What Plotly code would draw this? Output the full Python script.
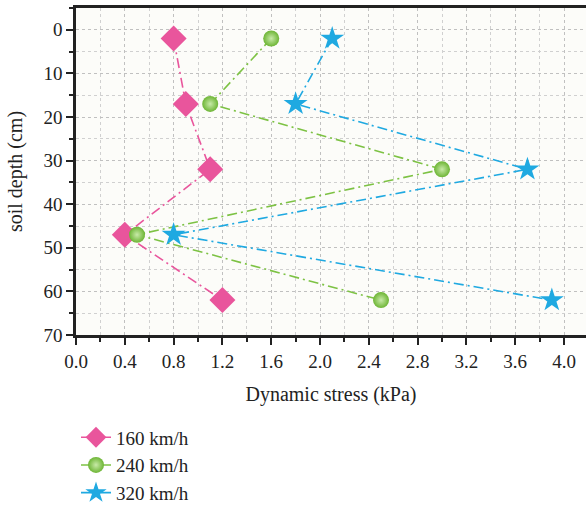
import plotly.graph_objects as go

depth = [2, 17, 32, 47, 62]
s160 = [0.8, 0.9, 1.1, 0.4, 1.2]
s240 = [1.6, 1.1, 3.0, 0.5, 2.5]
s320 = [2.1, 1.8, 3.7, 0.8, 3.9]
names = ["160 km/h", "240 km/h", "320 km/h"]
xticks = [0.0, 0.4, 0.8, 1.2, 1.6, 2.0, 2.4, 2.8, 3.2, 3.6, 4.0]
yticks = [0, 10, 20, 30, 40, 50, 60, 70]

font = "Liberation Serif, DejaVu Serif, serif"
dash = "10px,4px,2px,4px"
fig = go.Figure()
fig.add_trace(go.Scatter(x=s160, y=depth, name=names[0], mode="lines+markers",
                         line=dict(color="#e9559c", width=1.6, dash=dash),
                         marker=dict(symbol="diamond", size=20, color="#e9559c")))
fig.add_trace(go.Scatter(x=s240, y=depth, name=names[1], mode="lines+markers",
                         line=dict(color="#7dc244", width=1.6, dash=dash),
                         marker=dict(symbol="circle", size=16, color="#6db535",
                                     line=dict(width=0),
                                     gradient=dict(type="radial", color="#c8eaa8"))))
fig.add_trace(go.Scatter(x=s320, y=depth, name=names[2], mode="lines+markers",
                         line=dict(color="#1fa9e1", width=1.6, dash=dash),
                         marker=dict(symbol="star", size=18, color="#1fa9e1", line=dict(width=0))))

fig.update_layout(
    width=586, height=509,
    margin=dict(l=76, r=0, t=8, b=174, autoexpand=False),
    paper_bgcolor="white", plot_bgcolor="#fcfcf9",
    font=dict(family=font, size=19, color="#222"),
    showlegend=True,
    legend=dict(x=0.0, xanchor="left", y=-0.255, yanchor="top", orientation="v",
                font=dict(family=font, size=19), tracegroupgap=0,
                itemsizing="trace", bgcolor="rgba(0,0,0,0)"),
    xaxis=dict(range=[0, 4.18], tickvals=xticks, ticktext=[f"{v:.1f}" for v in xticks],
               automargin=False,
               showline=True, linecolor="#222", linewidth=2.5, mirror=True,
               ticks="outside", ticklen=7, tickwidth=2, tickcolor="#222",
               showgrid=True, gridcolor="#c0c0c0", griddash="dot", gridwidth=1,
               zeroline=False,
               minor=dict(dtick=0.2, tick0=0, ticks="outside", ticklen=4, tickwidth=2,
                          tickcolor="#222", showgrid=True, gridcolor="#d0d0d0",
                          griddash="dot", gridwidth=1),
               title=dict(text="Dynamic stress (kPa)", font=dict(family=font, size=20), standoff=17)),
    yaxis=dict(range=[70, -5], tickvals=yticks, automargin=False,
               showline=True, linecolor="#222", linewidth=2.5,
               ticks="outside", ticklen=7, tickwidth=2, tickcolor="#222",
               showgrid=True, gridcolor="#c0c0c0", griddash="dot", gridwidth=1,
               zeroline=False,
               minor=dict(dtick=5, tick0=0, ticks="outside", ticklen=4, tickwidth=2,
                          tickcolor="#222", showgrid=True, gridcolor="#d0d0d0",
                          griddash="dot", gridwidth=1),
               title=dict(text="soil depth (cm)", font=dict(family=font, size=20), standoff=16)),
)
fig.write_html("out.html")
